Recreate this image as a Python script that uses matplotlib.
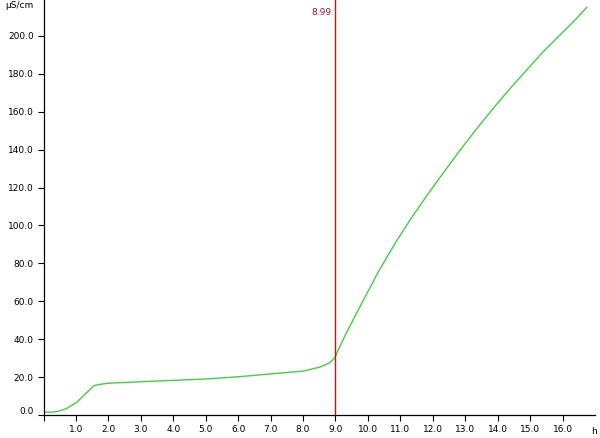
import matplotlib
matplotlib.use("Agg")
import matplotlib.pyplot as plt
import matplotlib.transforms as mtransforms

# conductivity curve
hours = [0.0, 0.3, 0.5, 0.7, 1.0, 1.2, 1.48, 1.55, 1.7, 2.0, 2.5, 3.0, 4.0, 5.0,
         6.0, 7.0, 8.0, 8.5, 8.8, 8.97, 9.1, 9.33, 9.84, 10.35, 10.87, 11.38,
         11.89, 12.4, 12.9, 13.4, 13.9, 14.4, 14.9, 15.4, 15.9, 16.4, 16.75]
cond = [1.6, 1.7, 2.3, 3.5, 6.5, 9.8, 14.4, 15.6, 16.2, 16.9, 17.3, 17.7, 18.4,
        19.1, 20.3, 21.8, 23.3, 25.3, 27.4, 30.0, 35.0, 43.2, 60.0, 76.5, 91.5,
        105.0, 117.5, 129.5, 141.0, 152.0, 162.5, 172.5, 182.0, 191.5, 200.0,
        208.5, 215.0]

marker_x = 8.99
marker_label = "8.99"
x_ticks = list(range(0, 17))
y_ticks = list(range(0, 201, 20))

fig = plt.figure(figsize=(6.0, 4.38), dpi=100)
ax = fig.add_axes([43.5 / 600, (438 - 415.3) / 438, (595 - 43.5) / 600, 415.3 / 438])

ax.plot(hours, cond, color="#3fd23f", lw=1.0)
ax.axvline(marker_x, color="#d01010", lw=1.0)
ax.text(marker_x - 0.12, 212, marker_label, color="#b01030", fontsize=6.5,
        ha="right", va="center")

ax.set_xlim(0, 17)
ax.set_ylim(0, 218.8)
ax.set_xticks(x_ticks)
ax.set_xticklabels([""] + [f"{t:.1f}" for t in x_ticks[1:]])
ax.set_yticks(y_ticks)
ax.set_yticklabels([f"{t:.1f}" for t in y_ticks])
ax.tick_params(labelsize=6.5, length=4, width=0.8, direction="out", pad=3)

# the 0.0 label sits a little above the axis in the original
zero_lbl = ax.get_yticklabels()[0]
zero_lbl.set_transform(zero_lbl.get_transform()
                       + mtransforms.ScaledTranslation(0, 5 / 100, fig.dpi_scale_trans))

for side in ["top", "right"]:
    ax.spines[side].set_visible(False)
for side in ["left", "bottom"]:
    ax.spines[side].set_linewidth(0.9)

fig.text(5 / 600, 1 - 6 / 438, "µS/cm", fontsize=6.5, ha="left", va="center")
fig.text(594 / 600, 1 - 432 / 438, "h", fontsize=6.5, ha="center", va="center")

fig.savefig("out.png", dpi=100)
